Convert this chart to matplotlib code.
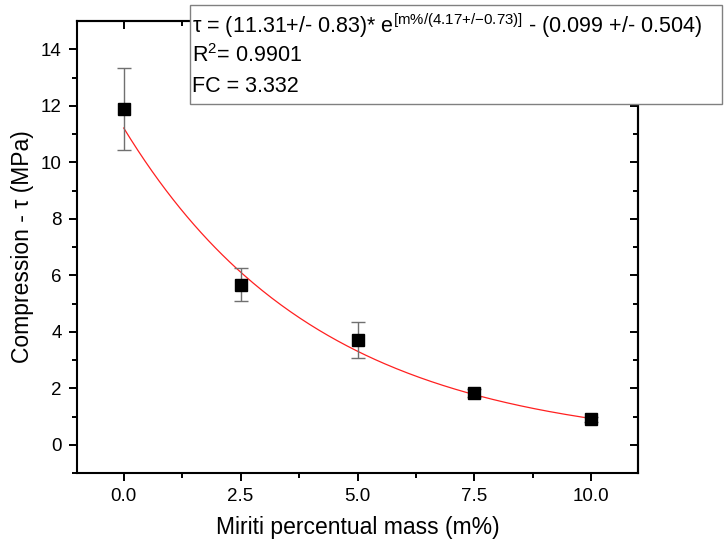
import numpy as np
import matplotlib
matplotlib.use("Agg")
import matplotlib.pyplot as plt
from matplotlib.patches import Rectangle

plt.rcParams['font.family'] = ['Liberation Sans', 'DejaVu Sans']
plt.rcParams['mathtext.fontset'] = 'custom'
plt.rcParams['mathtext.rm'] = 'Liberation Sans'
plt.rcParams['mathtext.it'] = 'Liberation Sans'

# data
mass = [0.0, 2.5, 5.0, 7.5, 10.0]
tau = [11.9, 5.66, 3.72, 1.82, 0.9]
tau_err = [1.45, 0.58, 0.64, 0.14, 0.08]

# fit parameters (from the printed equation)
fit_A = 11.31
fit_t = 4.17
fit_y0 = 0.099

xticks = [0.0, 2.5, 5.0, 7.5, 10.0]
xticklabels = ["0.0", "2.5", "5.0", "7.5", "10.0"]
xminor = [1.25, 3.75, 6.25, 8.75]
yticks = [0, 2, 4, 6, 8, 10, 12, 14]
yminor = [-1, 1, 3, 5, 7, 9, 11, 13]

fig = plt.figure(figsize=(7.28, 5.46), dpi=100)
ax = fig.add_axes([77/728, 1-473/546, (638-77)/728, (473-21)/546])

xf = np.linspace(mass[0], mass[-1], 200)
yf = fit_A*np.exp(-xf/fit_t) - fit_y0
ax.plot(xf, yf, color='#ff2020', lw=0.9, zorder=2)

ax.errorbar(mass, tau, yerr=tau_err, fmt='s', color='black', ms=8,
            ecolor='#707070', elinewidth=1.0, capsize=5, capthick=1.0, zorder=3)

ax.set_xlim(-1, 11)
ax.set_ylim(-1, 15)
ax.set_xticks(xticks)
ax.set_xticklabels(xticklabels)
ax.set_xticks(xminor, minor=True)
ax.set_yticks(yticks)
ax.set_yticks(yminor, minor=True)

for s in ax.spines.values():
    s.set_linewidth(1.5)
ax.tick_params(axis='both', which='major', direction='out', length=6, width=1.4,
               labelsize=13.5, pad=5)
ax.tick_params(axis='both', which='minor', direction='out', length=3.5, width=1.4)

# inward ticks on top and right
sx = ax.secondary_xaxis('top')
sx.set_xticks(xticks)
sx.set_xticks(xminor, minor=True)
sx.tick_params(which='major', direction='in', length=6, width=1.4, labeltop=False)
sx.tick_params(which='minor', direction='in', length=3.5, width=1.4)
sx.spines['top'].set_linewidth(1.5)
sy = ax.secondary_yaxis('right')
sy.set_yticks(yticks)
sy.set_yticks(yminor, minor=True)
sy.tick_params(which='major', direction='in', length=6, width=1.4, labelright=False)
sy.tick_params(which='minor', direction='in', length=3.5, width=1.4)
sy.spines['right'].set_linewidth(1.5)

ax.set_xlabel("Miriti percentual mass (m%)", fontsize=16.5, labelpad=8)
ax.set_ylabel("Compression - \u03c4 (MPa)", fontsize=16.5, labelpad=5)

# annotation box
x0, x1 = 190/728, 722/728
y0, y1 = 1-104/546, 1-5/546
rect = Rectangle((x0, y0), x1-x0, y1-y0, transform=fig.transFigure,
                 facecolor='white', edgecolor='#808080', lw=1.0, zorder=5)
fig.patches.append(rect)
fig.text(192/728, 1-26/546,
         "\u03c4 = (11.31+/- 0.83)* e$^{\\mathregular{[m\\%/(4.17{+}/{-}0.73)]}}$ - (0.099 +/- 0.504)",
         fontsize=15.5, va='center', ha='left', zorder=6)
fig.text(192/728, 1-56/546, "R$^{\\mathregular{2}}$= 0.9901", fontsize=15.5,
         va='center', ha='left', zorder=6)
fig.text(192/728, 1-87/546, "FC = 3.332", fontsize=15.5, va='center', ha='left', zorder=6)

fig.savefig("out.png", dpi=100)
